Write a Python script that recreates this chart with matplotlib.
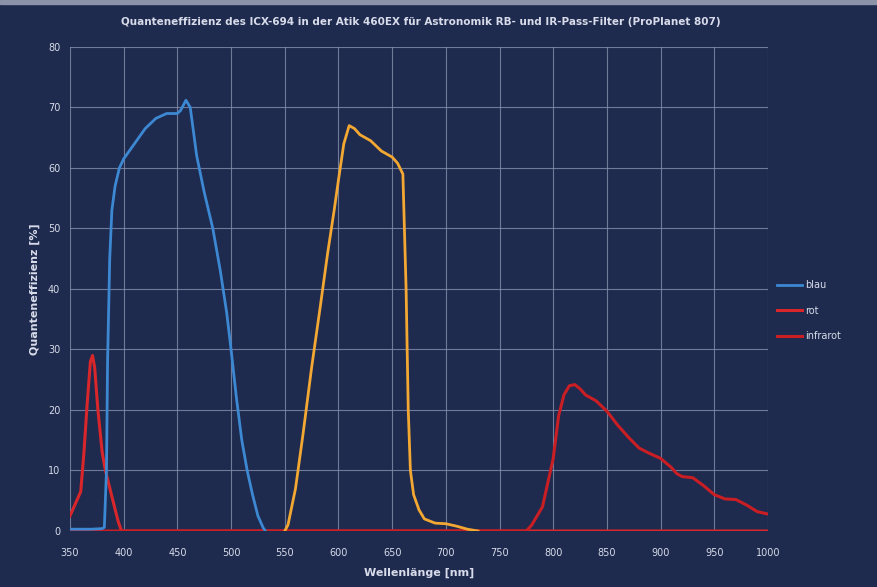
import numpy as np
import matplotlib
matplotlib.use("Agg")
import matplotlib.pyplot as plt
from matplotlib.patches import Rectangle

# blau
blau_nm = [350, 360, 370, 380, 382, 384, 385, 387, 389, 392, 396, 400, 410, 420, 430, 440,
           450, 453, 458, 462, 468, 475, 483, 490, 496, 500, 505, 510, 515, 520, 525, 530, 532]
blau_qe = [0.3, 0.3, 0.3, 0.4, 0.6, 10, 28, 45, 53, 57, 60, 61.5, 64, 66.5, 68.2, 69,
           69, 69.5, 71.2, 70, 62, 56, 50, 43, 36, 30, 22, 15, 10, 6, 2.5, 0.5, 0]

# orange curve (no legend entry)
orange_nm = [550, 553, 560, 567, 575, 583, 590, 596, 600, 605, 610, 615, 620, 630, 640,
             650, 655, 660, 663, 665, 667, 670, 675, 680, 690, 700, 710, 720, 730]
orange_qe = [0, 1, 7, 16, 27, 37, 46, 53, 58, 64, 67, 66.5, 65.5, 64.5, 62.8,
             61.8, 60.8, 59, 40, 20, 10, 6, 3.5, 2, 1.3, 1.2, 0.8, 0.3, 0]

# rot
rot_nm = [350, 355, 360, 363, 366, 369, 371, 373, 376, 380, 383, 390, 395, 398, 1000]
rot_qe = [2.5, 4.5, 6.5, 13, 21, 28, 29, 27, 20, 13, 10, 5, 1.5, 0, 0]

# infrarot
ir_nm = [350, 775, 780, 790, 800, 805, 810, 815, 820, 825, 830, 840, 850, 860, 870, 880,
         890, 900, 910, 915, 920, 930, 940, 950, 960, 970, 980, 990, 1000]
ir_qe = [0, 0, 1, 4, 12, 19, 22.5, 24, 24.2, 23.5, 22.5, 21.5, 19.8, 17.5, 15.5, 13.7,
         12.8, 12, 10.5, 9.5, 9, 8.8, 7.5, 6, 5.3, 5.2, 4.3, 3.2, 2.8]

bg = "#1e2a4e"
txt = "#d8dcea"

fig = plt.figure(figsize=(8.77, 5.87), dpi=100, facecolor=bg)
fig.patches.append(Rectangle((0, 0.993), 1, 0.007, transform=fig.transFigure,
                             color="#8a93a8", zorder=0))
ax = fig.add_axes([0.0798, 0.0954, 0.7959, 0.8246], facecolor=bg)

ax.plot(rot_nm, rot_qe, color="#d8262a", lw=2.2, label="rot", zorder=3)
ax.plot(ir_nm, ir_qe, color="#c81e24", lw=2.2, label="infrarot", zorder=3)
ax.plot(blau_nm, blau_qe, color="#3c88d2", lw=2.0, label="blau", zorder=4)
ax.plot(orange_nm, orange_qe, color="#f2a832", lw=2.0, zorder=4)

ax.set_xlim(350, 1000)
ax.set_ylim(0, 80)
ax.set_xticks(np.arange(350, 1001, 50))
ax.set_yticks(np.arange(0, 81, 10))
ax.grid(True, color="#8690ae", lw=0.8, alpha=0.8)
ax.set_axisbelow(True)
for s in ax.spines.values():
    s.set_visible(False)
ax.tick_params(colors=txt, labelsize=7, length=0)
ax.tick_params(axis="x", pad=12)
ax.tick_params(axis="y", pad=7)

ax.set_xlabel("Wellenlänge [nm]", color=txt, fontsize=8, fontweight="bold", labelpad=7)
ax.set_ylabel("Quanteneffizienz [%]", color=txt, fontsize=8, fontweight="bold", labelpad=6)
fig.text(0.48, 0.962, "Quanteneffizienz des ICX-694 in der Atik 460EX für Astronomik RB- und "
         "IR-Pass-Filter (ProPlanet 807)", color=txt, fontsize=7.5, fontweight="bold",
         ha="center", va="center")

h, l = ax.get_legend_handles_labels()
order = [l.index("blau"), l.index("rot"), l.index("infrarot")]
leg = ax.legend([h[i] for i in order], [l[i] for i in order], loc="center left",
                bbox_to_anchor=(1.0, 0.455), frameon=False, fontsize=7, labelcolor=txt,
                handlelength=2.6, handletextpad=0.3, labelspacing=1.6)

fig.savefig("out.png", dpi=100, facecolor=bg)
